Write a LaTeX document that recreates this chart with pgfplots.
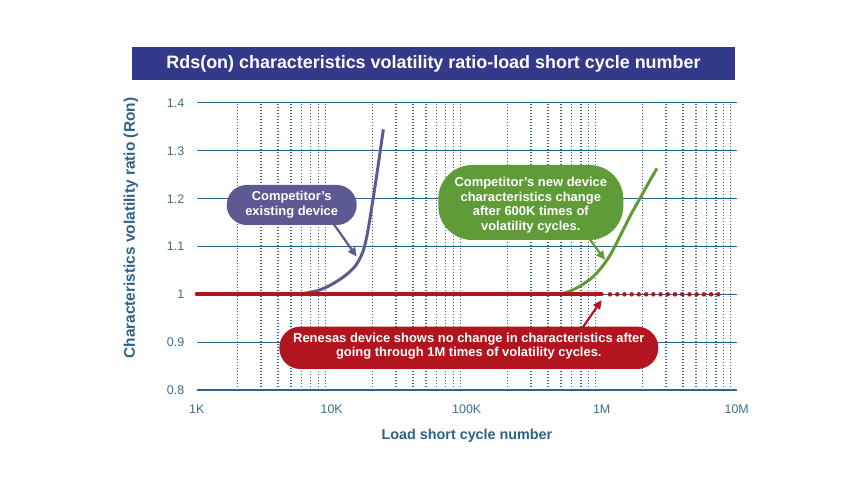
\documentclass[border=0pt]{standalone}
\usepackage{fontspec}
\setmainfont{Liberation Sans}
\usepackage{pgfplots}
\pgfplotsset{compat=1.18}
\usetikzlibrary{arrows.meta}
\definecolor{banner}{HTML}{343A8A}
\definecolor{axtext}{HTML}{2E6286}
\definecolor{ticktext}{HTML}{3C6D92}
\definecolor{gridc}{HTML}{2C6490}
\definecolor{dotc}{HTML}{2F6792}
\definecolor{renred}{HTML}{B3151F}
\definecolor{purp}{HTML}{5B5A92}
\definecolor{grn}{HTML}{5F9C37}
\begin{document}
\begin{tikzpicture}[x=1bp,y=1bp]
\useasboundingbox[fill=white] (0,0) rectangle (864,495);
\fill[banner] (132,415) rectangle (735,448);
\node[text=white, font=\bfseries\fontsize{18}{20}\selectfont] at (433.5,431.5) {Rds(on) characteristics volatility ratio-load short cycle number};
\begin{axis}[
  at={(196.7bp,105bp)}, anchor=south west, scale only axis,
  width=540bp, height=287bp,
  xmode=log, xmin=1000, xmax=1e7, ymin=0.8, ymax=1.4,
  axis x line*=bottom, axis y line*=left,
  x axis line style={line width=2bp, draw=gridc},
  y axis line style={draw=none},
  xtick={1e3,1e4,1e5,1e6,1e7}, xticklabels={1K,10K,100K,1M,10M},
  minor xtick={2000,3000,4000,5000,6000,7000,8000,9000,
    20000,30000,40000,50000,60000,70000,80000,90000,
    200000,300000,400000,500000,600000,700000,800000,900000,
    2000000,3000000,4000000,5000000,6000000,7000000,8000000,9000000},
  ytick={0.8,0.9,1,1.1,1.2,1.3,1.4}, yticklabels={0.8,0.9,1,1.1,1.2,1.3,1.4},
  ymajorgrids, xminorgrids, xmajorgrids=false,
  major grid style={draw=gridc, line width=1bp},
  minor grid style={draw=dotc, line width=1.4bp, dash pattern=on 1.3bp off 1.7bp},
  major tick length=0pt, minor tick length=0pt,
  tick label style={font=\fontsize{12.5}{14}\selectfont, text=ticktext},
  yticklabel style={xshift=-9bp},
  xticklabel style={yshift=-11bp},
  xlabel={Load short cycle number},
  ylabel={Characteristics volatility ratio (Ron)},
  xlabel style={font=\bfseries\fontsize{14.4}{16}\selectfont, text=axtext, at={(axis description cs:0.5005,-0.160)}, anchor=center},
  ylabel style={font=\bfseries\fontsize{15.5}{17}\selectfont, text=axtext, at={(axis description cs:-0.1217,0.564)}, anchor=center},
  clip=false,
]
\addplot[purp, line width=3bp, smooth] coordinates {
  (4911,1.0) (5826,1.001) (6908,1.0042) (8191,1.0094) (9714,1.0188)
  (11520,1.0314) (13204,1.0439) (14880,1.0585) (16200,1.0753) (17350,1.0962)
  (18570,1.1338) (20230,1.1986) (22030,1.2676) (24120,1.345)};
\addplot[grn, line width=3bp, smooth] coordinates {
  (451000,1.0) (534800,1.0031) (656200,1.0136) (819000,1.0314) (971400,1.0523)
  (1152000,1.0815) (1366000,1.1213) (1620000,1.1631) (1921000,1.2007)
  (2279000,1.2383) (2568000,1.2634)};
\addplot[renred, line width=4bp, line cap=round] coordinates {(1000,1) (1000000,1)};
\addplot[renred, line width=4.5bp, line cap=round, dash pattern=on 0bp off 7.22bp] coordinates {(1152000,1) (7310000,1)};
\end{axis}
% callouts
\fill[purp, rounded corners=20bp] (226.7,270) rectangle (356.7,310);
\draw[purp, line width=2.2bp, -{Triangle[length=9bp,width=8bp]}] (333,272) -- (356.7,238.3);
\node[text=white, font=\bfseries\fontsize{13}{15}\selectfont, align=center] at (291.7,290) {Competitor’s\\existing device};
\fill[grn, rounded corners=34bp] (438.3,255) rectangle (623.3,330);
\draw[grn, line width=2.2bp, -{Triangle[length=9bp,width=8bp]}] (588,258) -- (605,235);
\node[text=white, font=\bfseries\fontsize{13}{14.5}\selectfont, align=center] at (530.8,290) {Competitor's new device\\characteristics change\\after 600K times of\\volatility cycles.};
\fill[renred, rounded corners=21bp] (279.3,126) rectangle (658.3,168.3);
\draw[renred, line width=2.2bp, -{Triangle[length=9bp,width=8bp]}] (581.7,166) -- (601.7,195);
\node[text=white, font=\bfseries\fontsize{13}{14}\selectfont, align=center] at (468.8,148.5) {Renesas device shows no change in characteristics after\\going through 1M times of volatility cycles.};
\end{tikzpicture}
\end{document}
